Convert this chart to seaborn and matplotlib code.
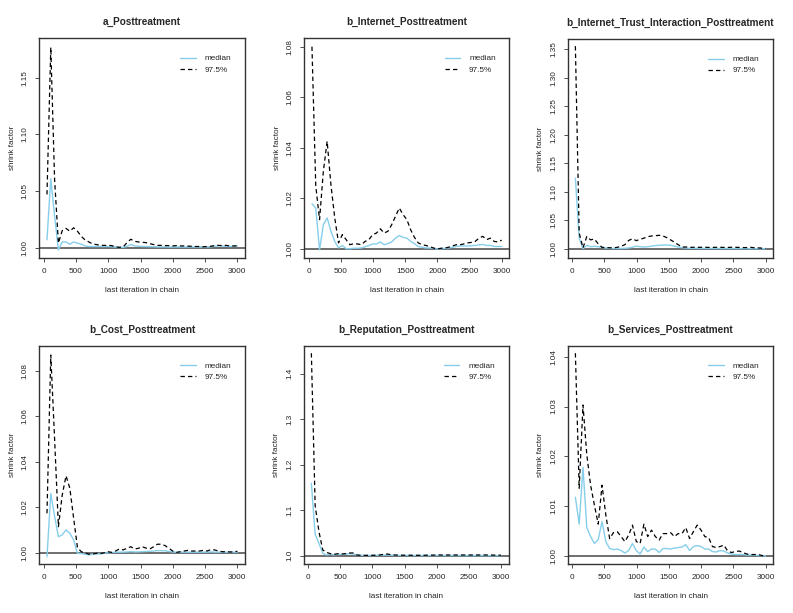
import numpy as np
import matplotlib
matplotlib.use("Agg")
import matplotlib.pyplot as plt
import seaborn as sns

sns.set_style("ticks")
plt.rcParams['font.family'] = ['Liberation Sans', 'DejaVu Sans']

# ===== DATA =====
# last iteration of each bin (coda gelman.plot grid)
iterations = np.append(np.arange(51, 2943, 59), 3000)

titles = [
    "a_Posttreatment",
    "b_Internet_Posttreatment",
    "b_Internet_Trust_Interaction_Posttreatment",
    "b_Cost_Posttreatment",
    "b_Reputation_Posttreatment",
    "b_Services_Posttreatment",
]

a_median = [1.007, 1.061, 1.028, 0.998, 1.005, 1.005, 1.003, 1.005, 1.004, 1.003,
            1.0015, 1.001, 1.001, 1.001, 1.001, 1.001, 1.001, 1.0008, 1.0005, 1.0003,
            1.0002, 1.0012, 1.0027, 1.0015, 1.0012, 1.001, 1.001, 1.0008, 1.0008, 1.0006,
            1.0006, 1.0006, 1.0005, 1.0005, 1.0006, 1.0005, 1.0005, 1.0005, 1.0006, 1.0005,
            1.0005, 1.0006, 1.0006, 1.0008, 1.0012, 1.0015, 1.0014, 1.0012, 1.001, 1.0012,
            1.0014]
a_q975 = [1.047, 1.177, 1.06, 1.004, 1.015, 1.017, 1.0145, 1.0175, 1.0145, 1.010,
          1.0068, 1.005, 1.0032, 1.0027, 1.002, 1.002, 1.002, 1.0018, 1.0006, 1.0003,
          1.0006, 1.0044, 1.0074, 1.0056, 1.005, 1.0047, 1.0044, 1.0035, 1.0027, 1.002,
          1.002, 1.0018, 1.0018, 1.0015, 1.0018, 1.0015, 1.0015, 1.0013, 1.0012, 1.001,
          1.001, 1.0008, 1.001, 1.0012, 1.0018, 1.002, 1.0018, 1.002, 1.0015, 1.0015,
          1.0016]

internet_median = [1.0179, 1.0162, 0.9997, 1.0096, 1.0123, 1.007, 1.003, 1.0004, 1.0014, 1.0001,
                   1.0001, 1.0003, 1.0003, 1.0004, 1.0009, 1.0014, 1.002, 1.002, 1.0028, 1.0017,
                   1.0021, 1.0028, 1.0043, 1.0053, 1.0046, 1.0043, 1.003, 1.0021, 1.001, 1.0007,
                   1.0004, 1.0004, 1.0003, 1.0, 1.0001, 1.0003, 1.0004, 1.0007, 1.001, 1.0012,
                   1.0012, 1.0012, 1.0013, 1.0014, 1.0016, 1.0018, 1.0014, 1.0014, 1.001, 1.001,
                   1.001]
internet_q975 = [1.080, 1.025, 1.0116, 1.0307, 1.0426, 1.0254, 1.0123, 1.0024, 1.0057, 1.0037,
                 1.0017, 1.0021, 1.002, 1.0017, 1.003, 1.0037, 1.0057, 1.0063, 1.008, 1.0063,
                 1.007, 1.0096, 1.0129, 1.0162, 1.0136, 1.0116, 1.0076, 1.0046, 1.0024, 1.0017,
                 1.0014, 1.001, 1.0004, 1.0, 1.0003, 1.0004, 1.0007, 1.0012, 1.0017, 1.0017,
                 1.002, 1.0024, 1.0026, 1.003, 1.0043, 1.005, 1.0037, 1.0043, 1.003, 1.0028,
                 1.0035]

trust_median = [1.124, 1.019, 1.0006, 1.0064, 1.004, 1.0047, 1.004, 1.003, 1.0018, 1.0012,
                1.001, 1.001, 1.001, 1.0012, 1.0018, 1.003, 1.005, 1.004, 1.0035, 1.004,
                1.005, 1.006, 1.0065, 1.007, 1.007, 1.0065, 1.005, 1.0035, 1.0023, 1.0018,
                1.0012, 1.0012, 1.0012, 1.001, 1.001, 1.001, 1.001, 1.001, 1.001, 1.0009,
                1.0009, 1.0008, 1.0008, 1.0008, 1.0007, 1.0007, 1.0007, 1.0006, 1.0006, 1.0006,
                1.0005]
trust_q975 = [1.355, 1.028, 1.002, 1.022, 1.016, 1.0175, 1.009, 1.003, 1.0023, 1.0023,
              1.0018, 1.003, 1.0047, 1.0076, 1.015, 1.018, 1.0146, 1.017, 1.019, 1.0216,
              1.0228, 1.0233, 1.024, 1.0228, 1.02, 1.016, 1.012, 1.0076, 1.0035, 1.0035,
              1.003, 1.003, 1.003, 1.003, 1.003, 1.0028, 1.0028, 1.003, 1.003, 1.0028,
              1.0028, 1.003, 1.003, 1.0028, 1.0025, 1.0025, 1.003, 1.0022, 1.002, 1.0015,
              1.001]

cost_median = [0.9982, 1.026, 1.016, 1.007, 1.0078, 1.010, 1.0085, 1.0056, 0.9997, 0.9996,
               0.9993, 0.999, 0.9993, 0.9994, 0.9994, 0.9997, 0.9999, 1.0, 1.0002, 1.0002,
               1.0002, 1.0003, 1.0004, 1.0003, 1.0003, 1.0004, 1.0005, 1.0006, 1.0007, 1.0009,
               1.0009, 1.0008, 1.0005, 1.0003, 1.0002, 1.0002, 1.0002, 1.0002, 1.0002, 1.0002,
               1.0002, 1.0002, 1.0002, 1.0003, 1.0002, 1.0002, 1.0002, 1.0002, 1.0002, 1.0002,
               1.0002]
cost_q975 = [1.0173, 1.0869, 1.05, 1.0114, 1.0253, 1.0338, 1.0283, 1.0151, 1.0022, 1.0004,
             0.9999, 0.9993, 0.9994, 0.9997, 0.9996, 0.9999, 1.0004, 1.0001, 1.0007, 1.0016,
             1.0012, 1.0019, 1.0026, 1.0016, 1.0019, 1.0026, 1.002, 1.0016, 1.0026, 1.0037,
             1.0037, 1.0031, 1.0019, 1.0007, 1.0001, 1.0004, 1.0007, 1.001, 1.0007, 1.0007,
             1.0007, 1.001, 1.0007, 1.0013, 1.0012, 1.0007, 1.0004, 1.0004, 1.0003, 1.0003,
             1.0006]

reputation_median = [1.159, 1.047, 1.027, 1.005, 1.0015, 1.003, 1.002, 1.003, 1.003, 1.003,
                     1.0044, 1.0037, 1.0015, 1.0007, 1.0007, 1.0007, 1.0007, 1.0008, 1.001, 1.0012,
                     1.0015, 1.001, 1.0008, 1.0006, 1.0005, 1.0005, 1.0005, 1.0004, 1.0004, 1.0004,
                     1.0004, 1.0004, 1.0005, 1.0005, 1.0005, 1.0004, 1.0004, 1.0004, 1.0004, 1.0004,
                     1.0003, 1.0003, 1.0003, 1.0003, 1.0003, 1.0003, 1.0002, 1.0002, 1.0002, 1.0002,
                     1.0002]
reputation_q975 = [1.445, 1.11, 1.053, 1.0125, 1.0073, 1.0044, 1.003, 1.0044, 1.0037, 1.0044,
                   1.0059, 1.0059, 1.0015, 1.0007, 1.0007, 1.0007, 1.0008, 1.001, 1.0015, 1.003,
                   1.0037, 1.002, 1.0015, 1.0012, 1.001, 1.001, 1.001, 1.0008, 1.0008, 1.001,
                   1.001, 1.0012, 1.0012, 1.0015, 1.0015, 1.0015, 1.0015, 1.0015, 1.0015, 1.0015,
                   1.0015, 1.0015, 1.0015, 1.0015, 1.0015, 1.0018, 1.0015, 1.0015, 1.0012, 1.0012,
                   1.001]

services_median = [1.0118, 1.0064, 1.0178, 1.0057, 1.0039, 1.0025, 1.0033, 1.0069, 1.0029, 1.0015,
                   1.0013, 1.0014, 1.0011, 1.0006, 1.0011, 1.0025, 1.0011, 1.0004, 1.0018, 1.0009,
                   1.0014, 1.0014, 1.0007, 1.0015, 1.0015, 1.0014, 1.0016, 1.0017, 1.0018, 1.0023,
                   1.0011, 1.0019, 1.0021, 1.0019, 1.0014, 1.0014, 1.0009, 1.0008, 1.0011, 1.0010,
                   1.0006, 1.0004, 1.0003, 1.0003, 1.0003, 1.0002, 1.0002, 1.0002, 1.0001, 1.0001,
                   1.0000]
services_q975 = [1.0407, 1.0136, 1.0303, 1.0203, 1.0142, 1.0102, 1.0064, 1.0142, 1.0082, 1.0035,
                 1.0047, 1.0049, 1.0039, 1.0029, 1.0042, 1.0062, 1.0029, 1.0025, 1.0064, 1.0039,
                 1.0052, 1.0039, 1.0032, 1.0045, 1.0045, 1.0047, 1.0039, 1.0045, 1.0045, 1.0057,
                 1.0035, 1.0049, 1.0062, 1.0052, 1.0039, 1.0037, 1.0019, 1.0017, 1.0019, 1.0022,
                 1.0010, 1.0007, 1.0009, 1.0010, 1.0007, 1.0004, 1.0003, 1.0003, 1.0003, 1.0001,
                 1.0000]

medians = [a_median, internet_median, trust_median, cost_median, reputation_median, services_median]
q975s = [a_q975, internet_q975, trust_q975, cost_q975, reputation_q975, services_q975]

y_ticks = [
    [1.00, 1.05, 1.10, 1.15],
    [1.00, 1.02, 1.04, 1.06, 1.08],
    [1.00, 1.05, 1.10, 1.15, 1.20, 1.25, 1.30, 1.35],
    [1.00, 1.02, 1.04, 1.06, 1.08],
    [1.0, 1.1, 1.2, 1.3, 1.4],
    [1.00, 1.01, 1.02, 1.03, 1.04],
]
y_fmt = ["%.2f", "%.2f", "%.2f", "%.2f", "%.1f", "%.2f"]
y_lims = [(0.9911, 1.185), (0.99656, 1.0833), (0.9848, 1.367),
          (0.995, 1.091), (0.9817, 1.4615), (0.9984, 1.0422)]
x_ticks = [0, 500, 1000, 1500, 2000, 2500, 3000]

# ===== LAYOUT (pixels: left, right, top, bottom) =====
W, H = 793, 613
boxes = [
    (39.3, 245.0, 38.3, 257.7),
    (304.3, 509.3, 38.3, 257.7),
    (567.7, 773.3, 39.3, 257.7),
    (39.3, 245.0, 345.7, 564.0),
    (303.7, 508.7, 345.7, 564.0),
    (567.7, 773.3, 345.7, 564.0),
]

FS = 5.9
DASH = (3.5, 2.5)

fig = plt.figure(figsize=(W / 100, H / 100), dpi=100)

for i in range(6):
    l, r, t, b = boxes[i]
    ax = fig.add_axes([l / W, 1 - b / H, (r - l) / W, (b - t) / H])

    ax.axhline(1.0, color="#555555", lw=1.2, zorder=1)
    sns.lineplot(x=iterations, y=medians[i], ax=ax, color="#87CEEB", lw=1.0,
                 label="median", zorder=3)
    sns.lineplot(x=iterations, y=q975s[i], ax=ax, color="black", lw=0.9,
                 label="97.5%", zorder=4)
    ax.lines[-1].set_dashes(DASH)

    ax.set_xlim(-68, 3118)
    ax.set_ylim(*y_lims[i])
    ax.set_xticks(x_ticks)
    ax.set_yticks(y_ticks[i])
    ax.set_yticklabels([y_fmt[i] % v for v in y_ticks[i]], rotation=90, va="center")
    ax.tick_params(labelsize=FS, length=3, width=0.6, color="#333333", pad=4.5)

    for s in ax.spines.values():
        s.set_linewidth(1.0)
        s.set_color("#333333")

    ax.set_title(titles[i], fontsize=7.2, fontweight="bold", pad=9.5)
    ax.set_xlabel("last iteration in chain", fontsize=FS)
    ax.set_ylabel("shrink factor", fontsize=FS)
    ax.xaxis.set_label_coords(0.5, -0.135)
    ax.yaxis.set_label_coords(-0.115, 0.5)

    leg = ax.legend(loc="upper left", bbox_to_anchor=(0.684, 0.925), frameon=False,
                    fontsize=FS, handlelength=1.9, handletextpad=1.1,
                    labelspacing=0.4, borderpad=0, borderaxespad=0)
    leg.get_lines()[1].set_dashes(DASH)

plt.savefig("out.png", dpi=100)
plt.close()
